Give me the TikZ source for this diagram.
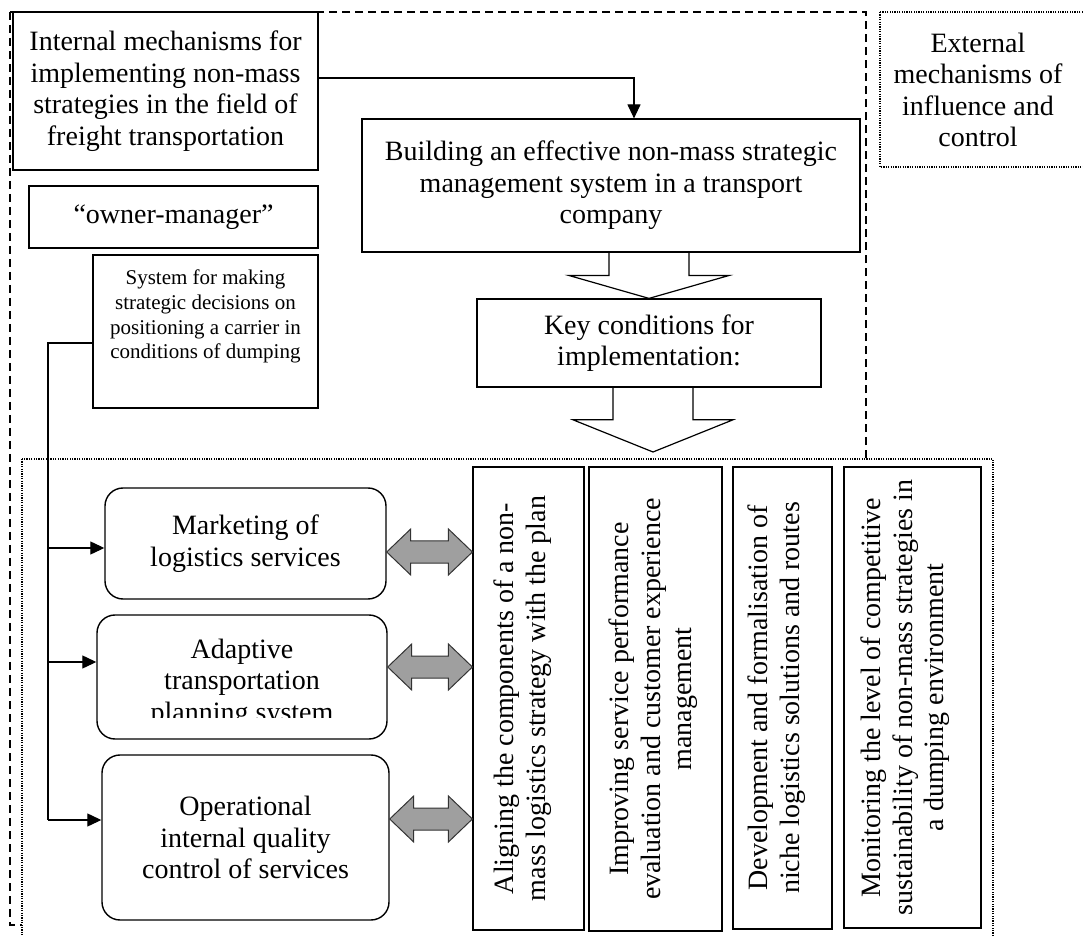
\documentclass[tikz,border=0pt]{standalone}
\usepackage{fontspec}
\setmainfont{Liberation Serif}
\usetikzlibrary{arrows.meta,calc}

% wide white arrow pointing down, from a box edge to a tip
\newcommand{\hollowarrow}[2]{%
  \path[hollow] let \p1=(#1), \p2=(#2) in
    ({\x2-20pt},{\y1-0.3pt}) -- ({\x2-20pt},{(\y1+\y2)/2}) -- ({\x2-40pt},{(\y1+\y2)/2})
    -- (\x2,\y2) -- ({\x2+40pt},{(\y1+\y2)/2}) -- ({\x2+20pt},{(\y1+\y2)/2})
    -- ({\x2+20pt},{\y1-0.3pt});}

% grey two-headed arrow between two boxes
\newcommand{\twinarrow}[2]{%
  \path[twin] let \p1=(#1), \p2=(#2) in
    (\x1,\y1) -- ({\x1+12pt},{\y1+11.5pt}) -- ({\x1+12pt},{\y1+5.5pt}) -- ({\x2-12pt},{\y1+5.5pt})
    -- ({\x2-12pt},{\y1+11.5pt}) -- (\x2,\y1) -- ({\x2-12pt},{\y1-11.5pt}) -- ({\x2-12pt},{\y1-5.5pt})
    -- ({\x1+12pt},{\y1-5.5pt}) -- ({\x1+12pt},{\y1-11.5pt}) -- cycle;}

\begin{document}
\begin{tikzpicture}[
    x=0.5pt, y=-0.5pt,
    box/.style={rectangle, draw, line width=0.6pt, fill=white, inner sep=0pt, align=center, font=\fontsize{14}{15.8}\selectfont},
    softbox/.style={box, rounded corners=9pt, line width=0.7pt},
    txt/.style={align=center, inner sep=0pt, font=\fontsize{14}{15.8}\selectfont},
    smalltxt/.style={txt, font=\fontsize{10.5}{12.4}\selectfont},
    hollow/.style={draw, fill=white, line width=0.6pt},
    twin/.style={draw=black!80, fill=gray!75, line width=0.5pt},
    arrow/.style={-{Triangle[length=7pt,width=6.5pt]}, line width=0.6pt},
    wire/.style={line width=0.7pt},
    innerframe/.style={draw, line width=0.55pt, dash pattern=on 4pt off 2.5pt},
    dotframe/.style={draw, line width=0.6pt, dash pattern=on 0.6pt off 0.6pt}
]
    \useasboundingbox (0,0) rectangle (1083,936);
    \clip (0,0) rectangle (1083,936);

    % Frames
    \draw[innerframe] (10,12) rectangle (866,925);
    \draw[dotframe, fill=white] (22,459) rectangle (993,950);
    \draw[dotframe] (880,12) rectangle (1100,167);
    \node[txt] (extlbl) at (978,90) {External\\mechanisms of\\influence and\\control};

    % Upper part
    \node[box, minimum width=152.5pt, minimum height=79pt] (intl) at (165.5,91) {Internal mechanisms for\\implementing non-mass\\strategies in the field of\\freight transportation};
    \node[box, minimum width=144.5pt, minimum height=31pt] (owner) at (173.5,217) {“owner-manager”};
    \node[box, minimum width=112.5pt, minimum height=76.5pt] (sys) at (205.5,331.5) {};
    \node[smalltxt, anchor=north] (systxt) at ([yshift=-7.5pt]sys.north) {System for making\\strategic decisions on\\positioning a carrier in\\conditions of dumping};
    \node[box, minimum width=249pt, minimum height=66.5pt] (build) at (611,185.5) {Building an effective non-mass strategic\\management system in a transport\\company};
    \node[box, minimum width=172pt, minimum height=44pt] (key) at (649,343) {Key conditions for\\implementation:};

    % Service blocks
    \node[softbox, minimum width=140.5pt, minimum height=55.5pt] (mkt) at (245.5,543.5) {Marketing of\\logistics services};
    \node[softbox, minimum width=145pt, minimum height=62pt] (adapt) at (242,677) {};
    \begin{scope}
        \clip (adapt.north west) rectangle ([yshift=11pt]adapt.south east);
        \node[txt] (adapttxt) at ([yshift=-3pt]adapt.center) {Adaptive\\transportation\\planning system};
    \end{scope}
    \node[softbox, minimum width=143.5pt, minimum height=82.5pt] (oper) at (245.5,837.5) {Operational\\internal quality\\control of services};

    % Conditions (vertical)
    \node[box, minimum width=55.5pt, minimum height=231.5pt] (align) at (528.5,698.5) {};
    \node[txt, rotate=90] (aligntxt) at ([xshift=-3pt]align.center) {Aligning the components of a non-\\mass logistics strategy with the plan};
    \node[box, minimum width=66.5pt, minimum height=232pt] (impr) at (655.5,699) {};
    \node[txt, rotate=90] (imprtxt) at ([xshift=-1pt]impr.center) {Improving service performance\\evaluation and customer experience\\management};
    \node[box, minimum width=49.5pt, minimum height=231pt] (devel) at (782.5,698) {};
    \node[txt, rotate=90] (develtxt) at ([xshift=-3pt]devel.center) {Development and formalisation of\\niche logistics solutions and routes};
    \node[box, minimum width=68.5pt, minimum height=230.5pt] (monit) at (912.5,697.5) {};
    \node[txt, rotate=90] (monittxt) at ([xshift=-3.5pt]monit.center) {Monitoring the level of competitive\\sustainability of non-mass strategies in\\a dumping environment};

    % Wide arrows
    \hollowarrow{key.north |- build.south}{key.north}
    \coordinate (condtip) at (653,452);
    \hollowarrow{condtip |- key.south}{condtip}

    % Grey links
    \coordinate (row1) at (0,552);
    \coordinate (row2) at (0,667);
    \coordinate (row3) at (0,819);
    \twinarrow{mkt.east |- row1}{align.west |- row1}
    \twinarrow{adapt.east |- row2}{align.west |- row2}
    \twinarrow{oper.east |- row3}{align.west |- row3}

    % Connectors
    \draw[arrow] ([yshift=6.5pt]intl.east) -| ([xshift=11.5pt]build.north);
    \coordinate (bustop) at (48,343);
    \coordinate (tapmkt) at (48,548);
    \coordinate (tapadapt) at (48,662);
    \coordinate (tapoper) at (48,820);
    \draw[wire] (sys.west |- bustop) -- (bustop) -- (tapoper);
    \draw[arrow] (tapmkt) -- (tapmkt -| mkt.west);
    \draw[arrow] (tapadapt) -- (tapadapt -| adapt.west);
    \draw[arrow] (tapoper) -- (tapoper -| oper.west);
\end{tikzpicture}
\end{document}
